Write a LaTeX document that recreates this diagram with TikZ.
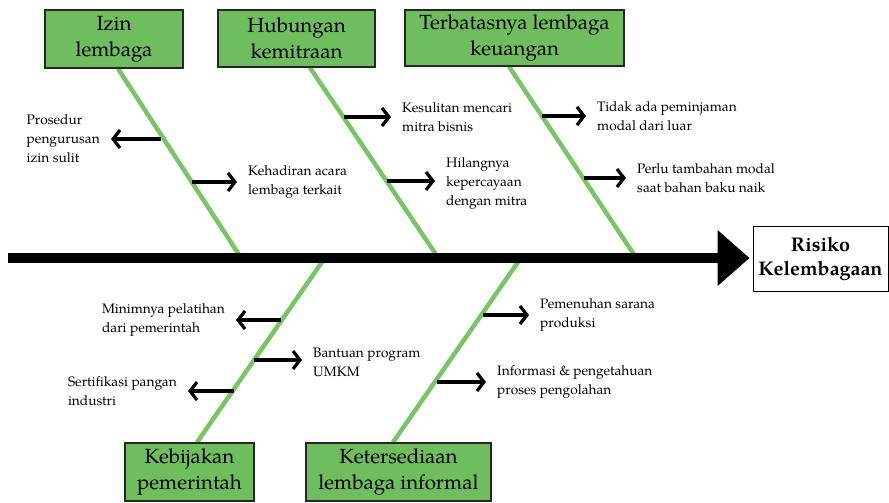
\documentclass[tikz,border=0pt]{standalone}
\usepackage{fontspec}
\setmainfont{TeX Gyre Pagella}
\usetikzlibrary{arrows.meta}
\definecolor{boxgreen}{RGB}{112,189,96}
\definecolor{bonegreen}{RGB}{122,196,104}
\pgfdeclarelayer{bg}
\pgfsetlayers{bg,main}
\begin{document}
\begin{tikzpicture}[x=1pt,y=-1pt,
  cause/.style={draw=black!85, line width=1.3pt, fill=boxgreen, align=center, inner sep=0pt, font=\fontsize{20.5}{26}\selectfont},
  effect/.style={draw=black, line width=1pt, fill=white, align=center, inner sep=0pt, font=\bfseries\fontsize{19.8}{24}\selectfont},
  bone/.style={draw=bonegreen, line width=4.5pt},
  spine/.style={draw=black, line width=10pt, -{Triangle[length=32pt,width=54pt]}, shorten >=3pt},
  sub/.style={draw=black, line width=3.2pt, -{Straight Barb[length=7pt,width=18pt]}, shorten >=11pt},
  lab/.style={align=left, inner sep=0pt, font=\fontsize{13.7}{19}\selectfont},
]
\useasboundingbox (0,0) rectangle (889,503);

% cause boxes
\node[cause, minimum width=138pt, minimum height=58pt] (b1) at (114,39) {Izin\\lembaga};
\node[cause, minimum width=157pt, minimum height=57pt] (b2) at (296.5,38.5) {Hubungan\\kemitraan};
\node[cause, minimum width=219pt, minimum height=56pt] (b3) at (514.5,38) {Terbatasnya lembaga\\keuangan};
\node[cause, minimum width=129pt, minimum height=58pt] (b4) at (189.5,472) {Kebijakan\\pemerintah};
\node[cause, minimum width=185pt, minimum height=58pt] (b5) at (398.5,472) {Ketersediaan\\lembaga informal};

% effect
\node[effect, minimum width=135pt, minimum height=65pt] (risk) at (820.5,259) {Risiko\\Kelembagaan};

% spine
\coordinate (sp0) at (8,258);
\draw[spine] (sp0) -- (sp0 -| risk.west);

% bone ends on spine
\coordinate (s1) at (241.2,258);
\coordinate (s2) at (438.4,258);
\coordinate (s3) at (636.3,258);
\coordinate (s4) at (324.8,258);
\coordinate (s5) at (520.8,258);

\begin{pgfonlayer}{bg}
\draw[bone] ([xshift=4pt]b1.south) -- (s1);
\draw[bone] ([xshift=13.5pt]b2.south) -- (s2);
\draw[bone] ([xshift=-5.5pt]b3.south) -- (s3);
\draw[bone] ([xshift=7.5pt]b4.north) -- (s4);
\draw[bone] ([xshift=-5.5pt]b5.north) -- (s5);
\end{pgfonlayer}

% sub-cause labels
\node[lab, anchor=east] (l1) at (100,139) {Prosedur\\pengurusan\\izin sulit};
\node[lab, anchor=west] (l2) at (248,182) {Kehadiran acara\\lembaga terkait};
\node[lab, anchor=west] (l3) at (402,117) {Kesulitan mencari\\mitra bisnis};
\node[lab, anchor=west] (l4) at (446,183) {Hilangnya\\kepercayaan\\dengan mitra};
\node[lab, anchor=west] (l5) at (597,116) {Tidak ada peminjaman\\modal dari luar};
\node[lab, anchor=west] (l6) at (637,178) {Perlu tambahan modal\\saat bahan baku naik};
\node[lab, anchor=east] (l7) at (225,320) {Minimnya pelatihan\\dari pemerintah};
\node[lab, anchor=west] (l8) at (313,362) {Bantuan program\\UMKM};
\node[lab, anchor=east] (l9) at (177,391) {Sertifikasi pangan\\industri};
\node[lab, anchor=west] (l10) at (540,315) {Pemenuhan sarana\\produksi};
\node[lab, anchor=west] (l11) at (497,382) {Informasi \& pengetahuan\\proses pengolahan};

% arrow starts on bones
\coordinate (a1) at (161,139);
\coordinate (a2) at (192,182);
\coordinate (a3) at (344,117);
\coordinate (a4) at (387,181);
\coordinate (a5) at (542,116);
\coordinate (a6) at (584,178);
\coordinate (a7) at (281,320);
\coordinate (a8) at (254,360);
\coordinate (a9) at (234,391);
\coordinate (a10) at (483,315);
\coordinate (a11) at (437,382);

\draw[sub] (a1) -- (a1 -| l1.east);
\draw[sub] (a2) -- (a2 -| l2.west);
\draw[sub] (a3) -- (a3 -| l3.west);
\draw[sub] (a4) -- (a4 -| l4.west);
\draw[sub] (a5) -- (a5 -| l5.west);
\draw[sub] (a6) -- (a6 -| l6.west);
\draw[sub] (a7) -- (a7 -| l7.east);
\draw[sub] (a8) -- (a8 -| l8.west);
\draw[sub] (a9) -- (a9 -| l9.east);
\draw[sub] (a10) -- (a10 -| l10.west);
\draw[sub] (a11) -- (a11 -| l11.west);
\end{tikzpicture}
\end{document}
